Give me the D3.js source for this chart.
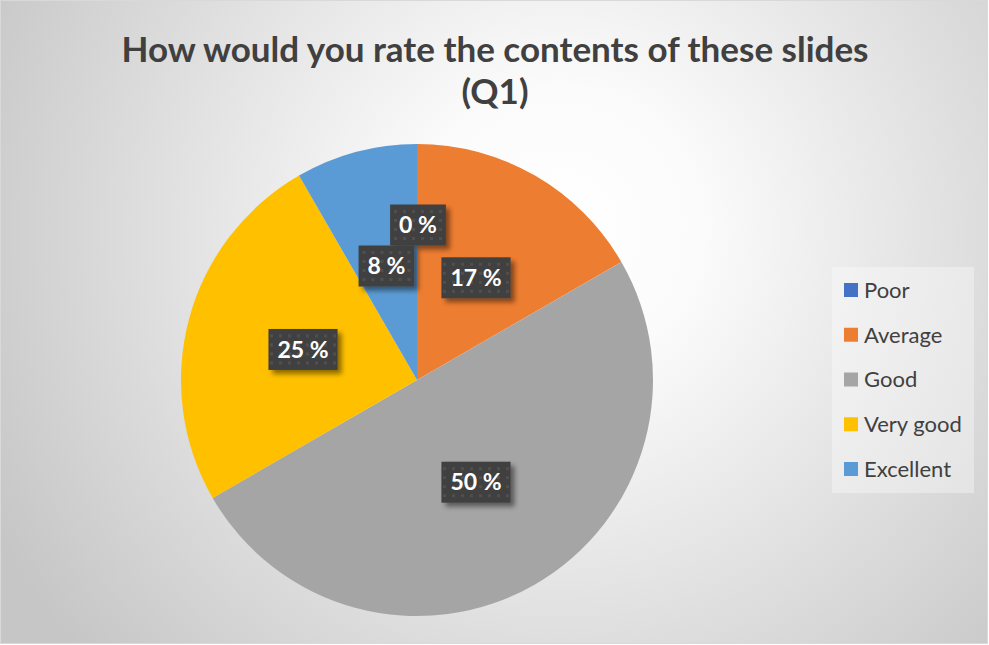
<!DOCTYPE html>
<html>
<head>
<meta charset="utf-8">
<script src="https://cdn.jsdelivr.net/npm/d3@7"></script>
<style>
  body { margin: 0; background: #fff; }
  svg { display: block; }
</style>
</head>
<body>
<div id="chart"></div>
<script>
// data
var categories = ["Poor", "Average", "Good", "Very good", "Excellent"];
var counts     = [0, 2, 6, 3, 1];
var colors     = ["#4472C4", "#ED7D31", "#A5A5A5", "#FFC000", "#5B9BD5"];
var titleLines = ["How would you rate the contents of these slides", "(Q1)"];

var W = 989, H = 645;
var cx = 417, cy = 380, radius = 236;

var svg = d3.select("#chart").append("svg").attr("width", W).attr("height", H);
var defs = svg.append("defs");

// background radial gradient
var bg = defs.append("radialGradient").attr("id", "bgGrad")
    .attr("gradientUnits", "userSpaceOnUse")
    .attr("cx", 560).attr("cy", 230).attr("r", 640);
bg.append("stop").attr("offset", "0").attr("stop-color", "#ffffff");
bg.append("stop").attr("offset", "0.22").attr("stop-color", "#fbfbfb");
bg.append("stop").attr("offset", "1").attr("stop-color", "#c6c6c6");

// dotted pattern for the data label boxes
var pat = defs.append("pattern").attr("id", "dots")
    .attr("patternUnits", "userSpaceOnUse").attr("width", 9).attr("height", 9);
pat.append("rect").attr("width", 9).attr("height", 9).attr("fill", "#404040");
pat.append("rect").attr("x", 3).attr("y", 3).attr("width", 3).attr("height", 3).attr("fill", "#4f4f4f");

var shadow = defs.append("filter").attr("id", "shadow")
    .attr("x", "-30%").attr("y", "-30%").attr("width", "170%").attr("height", "180%");
shadow.append("feDropShadow").attr("dx", 4).attr("dy", 4).attr("stdDeviation", 2.5)
    .attr("flood-color", "#000").attr("flood-opacity", 0.45);

svg.append("rect").attr("x", 0.5).attr("y", 0.5).attr("width", W - 2).attr("height", H - 2)
    .attr("fill", "url(#bgGrad)").attr("stroke", "#d9d9d9");

// title
var title = svg.append("text").attr("x", 495).attr("y", 62)
    .attr("text-anchor", "middle")
    .style("font-family", "Lato, 'Open Sans', sans-serif")
    .style("font-weight", "bold").style("font-size", "35px").style("fill", "#404040");
titleLines.forEach(function(t, i) {
    title.append("tspan").attr("x", 495).attr("dy", i == 0 ? 0 : 42).text(t);
});

// pie
var total = d3.sum(counts);
var data = categories.map(function(c, i) { return { name: c, value: counts[i], color: colors[i] }; });
var pie = d3.pie().value(d => d.value).sort(null);
var arc = d3.arc().innerRadius(0).outerRadius(radius);
var arcs = pie(data);

var g = svg.append("g").attr("transform", "translate(" + cx + "," + cy + ")");
g.selectAll("path").data(arcs).enter().append("path")
    .attr("d", arc)
    .attr("fill", d => d.data.color);

// data labels, zero slice nudged up out of the way like Excel does
var labels = g.selectAll("g.lbl").data(arcs).enter().append("g")
    .attr("class", "lbl")
    .attr("transform", function(d) {
        var c = arc.centroid(d);
        if (d.data.value == 0) c = [c[0] + 1, c[1] - 37];
        return "translate(" + c[0] + "," + c[1] + ")";
    });

labels.each(function(d) {
    var el = d3.select(this);
    var box = el.append("rect").attr("fill", "url(#dots)").attr("filter", "url(#shadow)");
    var txt = el.append("text")
        .attr("text-anchor", "middle").attr("dy", "0.36em")
        .style("font-family", "Lato, 'Open Sans', sans-serif")
        .style("font-weight", "bold").style("font-size", "23px").style("fill", "#fff")
        .text(Math.round(d.data.value / total * 100) + " %");
    var w = txt.node().getComputedTextLength() + 18;
    box.attr("x", -w / 2).attr("y", -20.5).attr("width", w).attr("height", 41);
});

// legend
var legend = svg.append("g").attr("transform", "translate(832,267)");
legend.append("rect").attr("width", 142).attr("height", 226)
    .attr("fill", "#ffffff").attr("fill-opacity", 0.35);
var ly = d3.scalePoint().domain(categories).range([23, 202]);
var items = legend.selectAll("g.item").data(data).enter().append("g")
    .attr("class", "item")
    .attr("transform", d => "translate(12," + ly(d.name) + ")");
items.append("rect").attr("x", 0).attr("y", -7).attr("width", 14).attr("height", 14)
    .attr("fill", d => d.color);
items.append("text").attr("x", 20).attr("dy", "0.36em")
    .style("font-family", "Lato, 'Open Sans', sans-serif")
    .style("font-size", "22px").style("fill", "#404040")
    .text(d => d.name);
</script>
</body>
</html>
